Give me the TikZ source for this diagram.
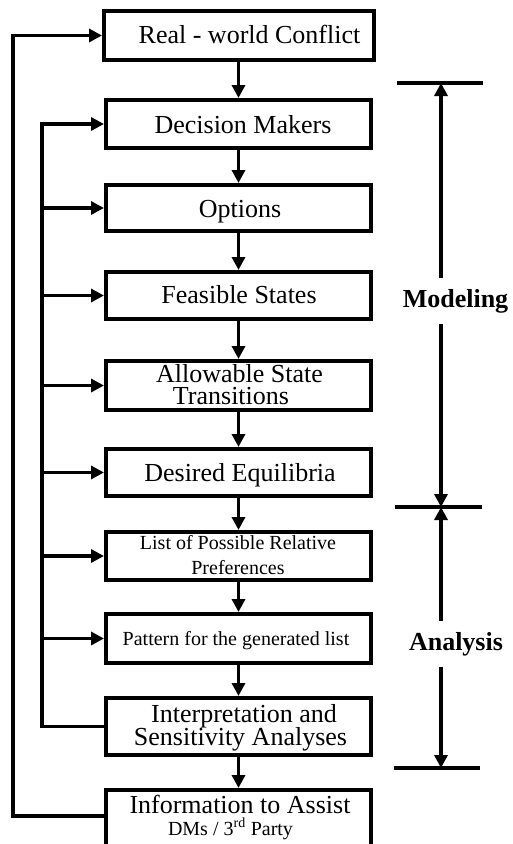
\documentclass[tikz,border=0pt]{standalone}
\usepackage{fontspec}
\setmainfont{Liberation Serif}
\usetikzlibrary{arrows.meta}
\begin{document}
\begin{tikzpicture}[x=1pt,y=-1pt,
  box/.style={draw,line width=4pt,inner sep=0pt,minimum width=265pt},
  big/.style={inner sep=0pt,anchor=base,font=\fontsize{26}{26}\selectfont},
  small/.style={inner sep=0pt,anchor=base,font=\fontsize{20}{20}\selectfont},
  tag/.style={inner sep=0pt,outer ysep=11pt,anchor=base,font=\fontsize{26}{26}\selectfont\bfseries},
  conn/.style={line width=3.5pt},
  arr/.style={conn,-{Triangle[length=13pt,width=13pt]}},
  bar/.style={line width=4pt}]
\clip (0,0) rectangle (512,844);
\useasboundingbox (0,0) rectangle (512,844);

% process boxes
\node[box,minimum width=270pt,minimum height=49pt] (b1) at (239,35.5) {};
\node[box,minimum height=48pt] (b2) at (238.5,124) {};
\node[box,minimum height=46pt] (b3) at (238.5,208) {};
\node[box,minimum height=47pt] (b4) at (238.5,295.5) {};
\node[box,minimum height=49pt] (b5) at (238.5,385.5) {};
\node[box,minimum height=47pt] (b6) at (238.5,472.5) {};
\node[box,minimum height=48pt] (b7) at (238.5,556) {};
\node[box,minimum height=49pt] (b8) at (238.5,638.5) {};
\node[box,minimum height=57pt] (b9) at (238.5,726.5) {};
\node[box,minimum height=60pt] (b10) at (238.5,820) {};

% box texts
\node[big] (t1) at (249.5,43) {Real - world Conflict};
\node[big] (t2) at (243,133) {Decision Makers};
\node[big] (t3) at (240,217) {Options};
\node[big] (t4) at (239,303) {Feasible States};
\node[big] (t5a) at (239.5,382) {Allowable State};
\node[big] (t5b) at (231,404) {Transitions};
\node[big] (t6) at (240,481) {Desired Equilibria};
\node[small] (t7a) at (238,549) {List of Possible Relative};
\node[small] (t7b) at (238,574) {Preferences};
\node[small] (t8) at (236,645) {Pattern for the generated list};
\node[big] (t9a) at (244,722) {Interpretation and};
\node[big] (t9b) at (240.5,745) {Sensitivity Analyses};
\node[big] (t10a) at (240,813) {Information to Assist};
\node[small] (t10b) at (230.5,835) {DMs / 3\textsuperscript{rd} Party};

% main flow
\draw[arr] (b1.south -| b2.north) -- (b2.north);
\draw[arr] (b2.south) -- (b3.north);
\draw[arr] (b3.south) -- (b4.north);
\draw[arr] (b4.south) -- (b5.north);
\draw[arr] (b5.south) -- (b6.north);
\draw[arr] (b6.south) -- (b7.north);
\draw[arr] (b7.south) -- (b8.north);
\draw[arr] (b8.south) -- (b9.north);
\draw[arr] (b9.south) -- (b10.north);

% feedback loops
\coordinate (inner) at (42,0);
\coordinate (outer) at (13,0);
\draw[arr] (b9.west) -| (inner |- b2.west) -- (b2.west);
\foreach \n in {b3,b4,b5,b6,b7,b8}
  \draw[arr] (inner |- \n.west) -- (\n.west);
\draw[arr] ([yshift=4pt]b10.west) -| (outer |- b1.west) -- (b1.west);

% phase markers
\coordinate (mtop) at (441,83);
\coordinate (mmid) at (441,507);
\coordinate (mbot) at (441,768);
\draw[bar] ([xshift=-44pt]mtop) -- ([xshift=42pt]mtop);
\draw[bar] ([xshift=-46pt]mmid) -- ([xshift=41pt]mmid);
\draw[bar] ([xshift=-47pt]mbot) -- ([xshift=39pt]mbot);
\node[tag] (mod) at (455.5,307) {Modeling};
\node[tag] (ana) at (456,650) {Analysis};
\draw[arr] (mod.north -| mtop) -- (mtop);
\draw[arr] (mod.south -| mtop) -- (mmid);
\draw[arr] (ana.north -| mmid) -- (mmid);
\draw[arr] (ana.south -| mbot) -- (mbot);
\end{tikzpicture}
\end{document}
